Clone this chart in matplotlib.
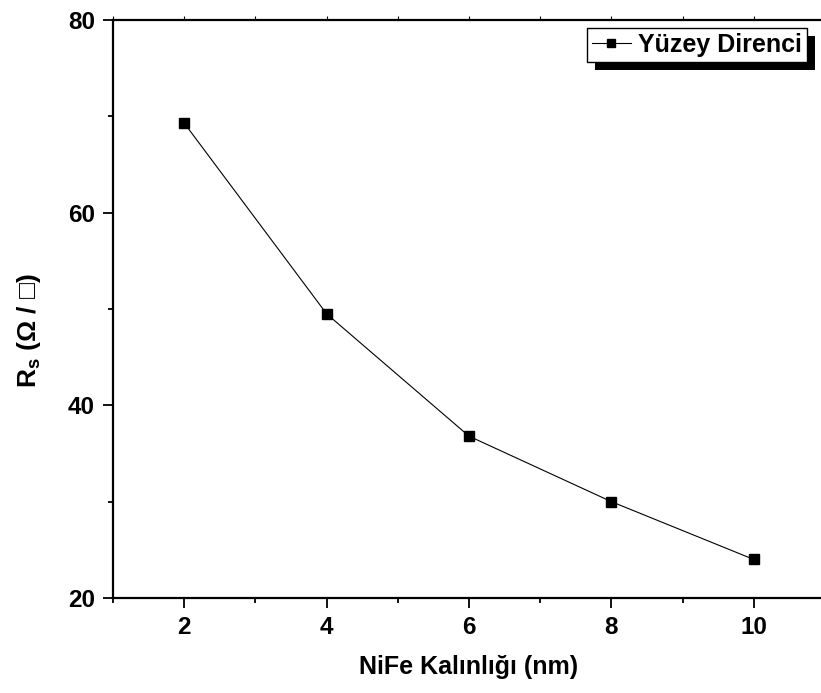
import matplotlib
matplotlib.use('Agg')
import matplotlib.pyplot as plt
from matplotlib.patches import Rectangle
from matplotlib.ticker import MultipleLocator

# NiFe thickness (nm) vs. sheet resistance (ohm/sq)
thickness = [2, 4, 6, 8, 10]
sheet_res = [69.3, 49.5, 36.8, 30.0, 24.0]
series_label = 'Yüzey Direnci'

plt.rcParams['font.family'] = ['Liberation Sans', 'DejaVu Sans']
plt.rcParams['font.weight'] = 'bold'
plt.rcParams['mathtext.fontset'] = 'custom'
plt.rcParams['mathtext.rm'] = 'Liberation Sans:bold'
plt.rcParams['mathtext.it'] = 'Liberation Sans:bold'
plt.rcParams['mathtext.bf'] = 'Liberation Sans:bold'

fig = plt.figure(figsize=(8.21, 6.93), dpi=100)
# axes extend slightly past the right edge of the figure
ax = fig.add_axes([113 / 821, 95 / 693, 712 / 821, 578 / 693])

ax.plot(thickness, sheet_res, color='black', linewidth=0.8,
        marker='s', markersize=7.5, markerfacecolor='black',
        markeredgecolor='black', label=series_label)

ax.set_xlim(1, 11)
ax.set_ylim(20, 80)
ax.xaxis.set_major_locator(MultipleLocator(2))
ax.xaxis.set_minor_locator(MultipleLocator(1))
ax.yaxis.set_major_locator(MultipleLocator(20))
ax.yaxis.set_minor_locator(MultipleLocator(10))

for side in ax.spines.values():
    side.set_linewidth(1.6)

ax.tick_params(which='major', direction='out', length=7, width=1.3,
               labelsize=17.5, pad=6)
ax.tick_params(which='minor', direction='out', length=3.5, width=1.3)
ax.tick_params(axis='x', which='both', top=True)

for lab in ax.get_xticklabels() + ax.get_yticklabels():
    lab.set_fontweight('bold')

ax.set_xlabel('NiFe Kalınlığı (nm)', fontsize=18, fontweight='bold')
ax.set_ylabel('R$_{s}$ (Ω / □)', fontsize=19, fontweight='bold')
ax.xaxis.set_label_coords(0.5, -0.098)
ax.yaxis.set_label_coords(-0.098, 0.462)

leg = ax.legend(loc='upper right', bbox_to_anchor=(0.9747, 0.9862),
                borderaxespad=0, fancybox=False, frameon=True,
                edgecolor='black', framealpha=1, handlelength=1.55,
                handletextpad=0.3, borderpad=0.2, markerscale=0.85,
                prop={'family': 'Liberation Sans', 'weight': 'bold', 'size': 18})
leg.get_frame().set_linewidth(1.0)

fig.canvas.draw()

# faint short ticks along the top spine
for t in ax.xaxis.get_major_ticks() + ax.xaxis.get_minor_ticks():
    t.tick2line.set_color('#c8c8c8')
    t.tick2line.set_markersize(3)
    t.tick2line.set_markeredgewidth(0.8)

# solid black drop shadow behind the legend box
bb = leg.get_window_extent()
off = 8
shadow = Rectangle(((bb.x0 + off) / fig.bbox.width, (bb.y0 - off) / fig.bbox.height),
                   bb.width / fig.bbox.width, bb.height / fig.bbox.height,
                   transform=fig.transFigure, facecolor='black', edgecolor='none',
                   zorder=4, clip_on=False)
ax.add_patch(shadow)

fig.savefig('out.png', dpi=100)
